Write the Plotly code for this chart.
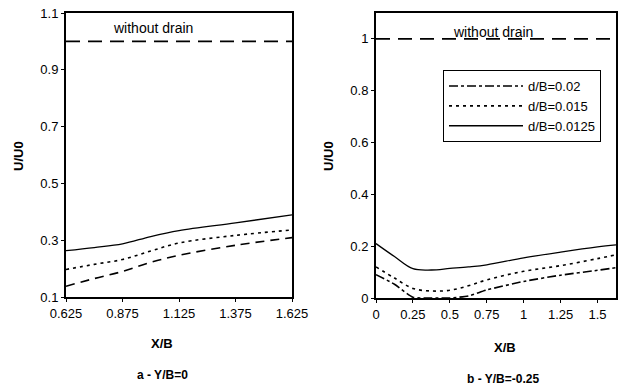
import plotly.graph_objects as go

# ---- data ----
xa = [0.625, 0.75, 0.875, 1.0, 1.125, 1.375, 1.625]
a_0125 = [0.263, 0.274, 0.287, 0.313, 0.334, 0.361, 0.389]
a_015 = [0.197, 0.215, 0.232, 0.262, 0.290, 0.317, 0.336]
a_02 = [0.138, 0.165, 0.190, 0.222, 0.247, 0.282, 0.309]
a_nodrain = [1.0, 1.0]
a_nodrain_x = [0.625, 1.625]

xb = [0, 0.125, 0.25, 0.375, 0.5, 0.625, 0.75, 1.0, 1.25, 1.5, 1.625]
b_0125 = [0.210, 0.160, 0.113, 0.108, 0.114, 0.120, 0.128, 0.155, 0.177, 0.197, 0.205]
b_015 = [0.120, 0.077, 0.037, 0.027, 0.030, 0.047, 0.070, 0.103, 0.125, 0.152, 0.167]
b_02 = [0.090, 0.053, 0.003, 0.0, 0.0, 0.008, 0.031, 0.064, 0.088, 0.107, 0.117]
b_nodrain = [1.0, 1.0]
b_nodrain_x = [0, 1.625]

a_xticks = [0.625, 0.875, 1.125, 1.375, 1.625]
a_xticklabels = ["0.625", "0.875", "1.125", "1.375", "1.625"]
a_yticks = [0.1, 0.3, 0.5, 0.7, 0.9, 1.1]
b_xticks = [0, 0.25, 0.5, 0.75, 1, 1.25, 1.5]
b_xticklabels = ["0", "0.25", "0.5", "0.75", "1", "1.25", "1.5"]
b_yticks = [0, 0.2, 0.4, 0.6, 0.8, 1]

W, H = 621, 390
FONT = "Liberation Sans, Arial, sans-serif"

def px(x):
    return min(1.0, max(0.0, x / W))

def py(y):
    return min(1.0, max(0.0, 1 - y / H))

fig = go.Figure()

lw = 1.3
# left panel
fig.add_trace(go.Scatter(x=a_nodrain_x, y=a_nodrain, mode="lines", showlegend=False,
                         line=dict(color="black", width=1.8, dash="14px,8px"), xaxis="x", yaxis="y"))
fig.add_trace(go.Scatter(x=xa, y=a_0125, mode="lines", showlegend=False, line_shape="spline",
                         line=dict(color="black", width=lw), xaxis="x", yaxis="y"))
fig.add_trace(go.Scatter(x=xa, y=a_015, mode="lines", showlegend=False, line_shape="spline",
                         line=dict(color="black", width=lw + 0.3, dash="3px,4px"), xaxis="x", yaxis="y"))
fig.add_trace(go.Scatter(x=xa, y=a_02, mode="lines", showlegend=False, line_shape="spline",
                         line=dict(color="black", width=lw + 0.3, dash="9px,6px"), xaxis="x", yaxis="y"))

# right panel
fig.add_trace(go.Scatter(x=b_nodrain_x, y=b_nodrain, mode="lines", showlegend=False,
                         line=dict(color="black", width=1.8, dash="14px,8px"), xaxis="x2", yaxis="y2"))
fig.add_trace(go.Scatter(x=xb, y=b_02, mode="lines", name="d/B=0.02", line_shape="spline",
                         line=dict(color="black", width=lw + 0.3, dash="9px,3px,3px,3px", smoothing=0.6),
                         xaxis="x2", yaxis="y2"))
fig.add_trace(go.Scatter(x=xb, y=b_015, mode="lines", name="d/B=0.015", line_shape="spline",
                         line=dict(color="black", width=lw + 0.3, dash="3px,4px"), xaxis="x2", yaxis="y2"))
fig.add_trace(go.Scatter(x=xb, y=b_0125, mode="lines", name="d/B=0.0125", line_shape="spline",
                         line=dict(color="black", width=lw), xaxis="x2", yaxis="y2"))

axis_common = dict(showgrid=False, zeroline=False, showline=True, linecolor="black", linewidth=2,
                   mirror=True, ticks="outside", ticklen=3, tickcolor="black", automargin=False,
                   ticklabeloverflow="allow",
                   tickfont=dict(family=FONT, size=13, color="black"))

fig.update_layout(
    width=W, height=H,
    margin=dict(l=0, r=0, t=0, b=0, autoexpand=False),
    paper_bgcolor="white", plot_bgcolor="white",
    font=dict(family=FONT, color="black"),
    xaxis=dict(domain=[px(66), px(292)], range=[0.625, 1.625], tickvals=a_xticks,
               ticktext=a_xticklabels, anchor="y", **axis_common),
    yaxis=dict(domain=[py(297), py(13)], range=[0.1, 1.1], tickvals=a_yticks,
               anchor="x", **axis_common),
    xaxis2=dict(domain=[px(376), px(616)], range=[0, 1.625], tickvals=b_xticks,
                ticktext=b_xticklabels, anchor="y2", **axis_common),
    yaxis2=dict(domain=[py(298), py(13)], range=[0, 1.1], tickvals=b_yticks,
                anchor="x2", **axis_common),
    legend=dict(x=px(443), y=py(70), xanchor="left", yanchor="top",
                bordercolor="black", borderwidth=1, bgcolor="white",
                font=dict(family=FONT, size=13, color="black"),
                tracegroupgap=0, itemwidth=74),
)

def txt(x, y, s, size=13, bold=False, angle=0):
    fig.add_annotation(x=px(x), y=py(y), xref="paper", yref="paper", text=f"<b>{s}</b>" if bold else s,
                       showarrow=False, font=dict(family=FONT, size=size, color="black"),
                       xanchor="center", yanchor="middle", textangle=angle)

txt(153, 28, "without drain", 14)
txt(493, 32, "without drain", 14)
txt(18, 156, "U/U0", 13, True, -90)
txt(328, 156, "U/U0", 13, True, -90)
txt(162, 343, "X/B", 13, True)
txt(505, 347, "X/B", 13, True)
txt(162, 375, "a - Y/B=0", 12, True)
txt(503, 379, "b - Y/B=-0.25", 12, True)

fig.write_html("out.html", config={"displayModeBar": False},
               post_script="document.body.style.margin='0';")
